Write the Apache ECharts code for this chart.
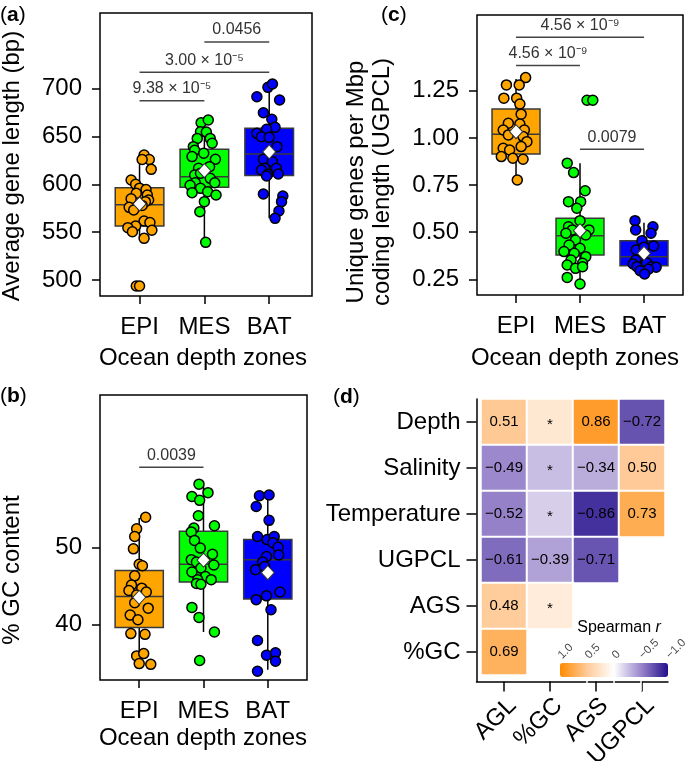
<!DOCTYPE html>
<html><head><meta charset="utf-8">
<script src="https://cdn.jsdelivr.net/npm/echarts@6/dist/echarts.min.js"></script>
<style>html,body{margin:0;padding:0;background:#fff}#c{width:685px;height:761px}</style>
</head><body><div id="c"></div>
<script>
// ---------- categories ----------
const zones = ['EPI', 'MES', 'BAT'];
const zoneColors = ['#FFA500', '#00FF00', '#0000FF'];

// ---------- panel a: average gene length (bp) ----------
// box: [lowerWhisker, Q1, median, Q3, upperWhisker]
const aglBox = [[543.6, 556.5, 578.7, 596.5, 630.7], [540, 596.9, 608, 636.6, 665.5], [564.5, 609.2, 631.7, 658.6, 704.9]];
const aglMean = [579.5, 614.3, 634];
// points: [jitter, value]
const aglEPI = [[0.07,630.7],[0.15,626],[0.04,626],[0.18,615.7],[-0.13,604.5],[-0.06,600],[0,596],[0.1,594.6],[-0.05,590.6],[0.12,588.9],[0.14,583.6],[-0.13,585],[0.09,581.9],[0.04,578],[-0.16,576],[-0.09,573.2],[0.07,561.7],[0.16,560],[-0.06,556.5],[-0.18,554.7],[-0.11,550.5],[0.19,552],[0.07,543.6],[-0.05,493.7],[0,493.7]];
const aglMES = [[-0.05,664.5],[0.06,667.3],[-0.06,655],[0.03,654.7],[-0.11,648],[0.09,648],[-0.17,639.4],[0.12,643],[-0.15,635.6],[-0.01,632.5],[-0.19,629],[0.17,626.2],[0.08,618.5],[-0.09,616.8],[-0.15,609.8],[-0.06,611.5],[0.09,606.3],[0.16,601.7],[-0.14,601.7],[-0.22,599],[-0.06,595.8],[0.05,592.3],[-0.19,591.3],[0.18,588.9],[0,581.9],[-0.07,571.4],[0.02,539.4]];
const aglBAT = [[-0.02,701.4],[0.05,704.9],[-0.19,691.6],[0.16,688.2],[-0.09,674.9],[0.04,668],[0.09,659.6],[-0.04,657.5],[-0.19,653.3],[-0.12,649.8],[0,649.1],[0.12,639.4],[-0.09,626.2],[0.05,623.7],[-0.07,616.8],[0.11,616.8],[-0.12,615],[-0.02,610.5],[0.14,610.8],[-0.04,608.7],[-0.09,589.9],[0.21,587.8],[0.19,581.9],[0.15,572.1],[0.09,564.5]];
const aglBrk = [[2, 3, 748.8], [1, 3, 717.1], [1, 2, 687.5]];
const aglBrkLabels = ['0.0456', '3.00 \u00d7 10\u207b\u2075', '9.38 \u00d7 10\u207b\u2075'];
const aglTicks = [500, 550, 600, 650, 700];

// ---------- panel b: % GC content ----------
const gcBox = [[35.0, 39.6, 43.6, 47.0, 53.8], [39.0, 45.5, 47.8, 52.1, 58.0], [34.1, 43.3, 48.4, 51.0, 56.8]];
const gcMean = [43.5, 48.35, 46.7];
const gcEPI = [[0.1,53.9],[-0.04,52.4],[-0.07,51.4],[-0.09,49.8],[0,47.8],[0.05,47.6],[-0.07,46.3],[-0.12,45.1],[-0.16,44.4],[0.04,44.7],[0.11,44.2],[-0.04,43.8],[-0.07,42.8],[0.14,42.1],[-0.14,41.2],[-0.02,40.6],[-0.13,38.8],[0.09,38.7],[-0.04,35.9],[0.07,36.2],[0,34.9],[0.18,34.8]];
const gcMES = [[-0.07,58.2],[-0.18,56.6],[0.07,57.1],[-0.06,56.1],[-0.08,54.1],[0.17,52.8],[-0.15,52.5],[-0.19,52.0],[-0.14,50.9],[-0.05,49.9],[0.14,49.1],[-0.19,48.4],[-0.11,48.1],[0.16,47.7],[-0.04,47.3],[-0.18,46.8],[0.03,46.2],[-0.09,45.8],[0.12,45.8],[-0.11,45.3],[-0.04,45.2],[-0.18,42.2],[-0.07,40.9],[0.17,39.0],[-0.06,35.3]];
const gcBAT = [[-0.13,56.7],[0.02,56.8],[-0.18,55.3],[0.02,53.5],[-0.16,51.4],[-0.01,51.0],[0.1,51.4],[0.08,50.6],[0.16,50.0],[0.17,49.0],[-0.02,48.8],[-0.08,48.1],[-0.19,47.1],[-0.05,47.5],[0.19,44.2],[-0.02,43.7],[-0.18,43.2],[0.05,41.9],[-0.16,37.9],[-0.02,36.0],[0.12,36.3],[0.12,35.2],[-0.16,33.9]];
const gcBrk = [[1, 2, 60.4]];
const gcBrkLabels = ['0.0039'];
const gcTicks = [40, 50];

// ---------- panel c: UGPCL ----------
const ugBox = [[0.777, 0.915, 1.02, 1.154, 1.313], [0.22, 0.379, 0.481, 0.574, 0.866], [0.273, 0.322, 0.37, 0.455, 0.55]];
const ugMean = [1.033, 0.508, 0.388];
const ugEPI = [[0.15,1.32],[-0.15,1.281],[0.05,1.281],[-0.19,1.211],[0.01,1.211],[0.06,1.18],[0.08,1.126],[-0.12,1.078],[0.06,1.074],[-0.2,1.042],[0.13,1.042],[-0.12,1.016],[0.11,1.007],[0.17,0.98],[-0.2,0.945],[-0.1,0.936],[0.08,0.954],[-0.23,0.901],[-0.05,0.892],[0.11,0.887],[0.02,0.777]];
const ugMES = [[-0.2,0.866],[-0.1,0.816],[0.08,0.72],[-0.18,0.662],[0.01,0.662],[-0.05,0.627],[0,0.561],[-0.18,0.529],[-0.12,0.512],[0.14,0.512],[-0.22,0.494],[0.09,0.485],[-0.07,0.459],[-0.17,0.432],[0,0.415],[-0.25,0.397],[-0.09,0.388],[0.09,0.37],[-0.14,0.352],[0.04,0.335],[-0.2,0.326],[-0.07,0.308],[0.04,0.317],[-0.2,0.26],[0,0.225],[0.11,1.2],[0.2,1.2]];
const ugBAT = [[-0.14,0.561],[-0.13,0.512],[0.14,0.529],[0.11,0.494],[-0.03,0.455],[0.15,0.427],[-0.12,0.406],[0,0.42],[-0.13,0.352],[0.04,0.338],[-0.17,0.331],[-0.11,0.317],[0.12,0.317],[0.19,0.314],[0.07,0.303],[-0.06,0.296],[0.01,0.278]];
const ugBrk = [[1, 3, 1.534], [1, 2, 1.384], [2, 3, 0.94]];
const ugBrkLabels = ['4.56 \u00d7 10\u207b\u2079', '4.56 \u00d7 10\u207b\u2079', '0.0079'];
const ugTicks = [0.25, 0.5, 0.75, 1.0, 1.25];

// ---------- panel d: Spearman correlations ----------
const rowLabels = ['Depth', 'Salinity', 'Temperature', 'UGPCL', 'AGS', '%GC'];
const colLabels = ['AGL', '%GC', 'AGS', 'UGPCL'];
// r values (non-significant cells estimated from their colour)
const rDepth = [0.51, 0.22, 0.86, -0.72];
const rSalinity = [-0.49, -0.27, -0.34, 0.50];
const rTemperature = [-0.52, -0.2, -0.86, 0.73];
const rUGPCL = [-0.61, -0.39, -0.71, null];
const rAGS = [0.48, 0.18, null, null];
const rGC = [0.69, null, null, null];
// 1 = significant (value printed), 0 = shown as *
const sigDepth = [1, 0, 1, 1];
const sigSalinity = [1, 0, 1, 1];
const sigTemperature = [1, 0, 1, 1];
const sigUGPCL = [1, 1, 1, 0];
const sigAGS = [1, 0, 0, 0];
const sigGC = [1, 0, 0, 0];
const legendTicks = [1, 0.5, 0, -0.5, -1];
const legendTickLabels = ['1.0', '0.5', '0', '\u22120.5', '\u22121.0'];

// ---------- helpers ----------
const FONT = 'Liberation Sans, Arial, Helvetica, sans-serif';
const FS = 24;
const fmtMinus = v => (v < 0 ? '\u2212' : '') + Math.abs(v).toFixed(2);

function boxRender(params, api) {
  const x = api.value(0), lo = api.value(1), q1 = api.value(2), med = api.value(3), q3 = api.value(4), hi = api.value(5);
  const hw = 0.375;
  const pLo = api.coord([x, lo]), pHi = api.coord([x, hi]);
  const pA = api.coord([x - hw, q1]), pB = api.coord([x + hw, q3]);
  const pM1 = api.coord([x - hw, med]), pM2 = api.coord([x + hw, med]);
  return {
    type: 'group', children: [
      { type: 'line', shape: { x1: pLo[0], y1: pLo[1], x2: pHi[0], y2: pHi[1] }, style: { stroke: '#000', lineWidth: 1.5 } },
      { type: 'rect', shape: { x: pA[0], y: pB[1], width: pB[0] - pA[0], height: pA[1] - pB[1] }, style: { fill: zoneColors[x - 1], stroke: '#3a3a3a', lineWidth: 1.5 } },
      { type: 'line', shape: { x1: pM1[0], y1: pM1[1], x2: pM2[0], y2: pM2[1] }, style: { stroke: '#3a3a3a', lineWidth: 1.5 } }
    ]
  };
}
function makeBrkRender(labels) {
  return function (params, api) {
    const p1 = api.coord([api.value(0), api.value(2)]);
    const p2 = api.coord([api.value(1), api.value(2)]);
    return {
      type: 'group', children: [
        { type: 'line', shape: { x1: p1[0], y1: p1[1], x2: p2[0], y2: p2[1] }, style: { stroke: '#444', lineWidth: 1.5 } },
        { type: 'text', style: { text: labels[params.dataIndex], x: (p1[0] + p2[0]) / 2, y: p1[1] - 12, fill: '#333', fontSize: 16, fontFamily: FONT, align: 'center', verticalAlign: 'middle', textAlign: 'center', textVerticalAlign: 'middle' } }
      ]
    };
  };
}
function boxData(box) { return box.map((b, i) => [i + 1].concat(b)); }
function ptsData(pts, gi) { return pts.map(p => [gi + 1 + p[0], p[1]]); }
function meanData(m) { return m.map((v, i) => [i + 1, v]); }

function panelAxes(gi, yMin, yMax, ticks, fmt) {
  return {
    x: {
      type: 'value', gridIndex: gi, min: 0.39, max: 3.61,
      axisLine: { show: false }, splitLine: { show: false },
      axisTick: { show: true, length: 8, lineStyle: { color: '#000', width: 1.5 }, customValues: [1, 2, 3] },
      axisLabel: { customValues: [1, 2, 3], formatter: v => zones[Math.round(v) - 1], fontSize: FS, fontFamily: FONT, color: '#000', margin: 19 }
    },
    y: {
      type: 'value', gridIndex: gi, min: yMin, max: yMax,
      axisLine: { show: false }, splitLine: { show: false },
      axisTick: { show: true, length: 8, lineStyle: { color: '#000', width: 1.5 }, customValues: ticks },
      axisLabel: { customValues: ticks, formatter: fmt, fontSize: FS, fontFamily: FONT, color: '#000', margin: 18 }
    }
  };
}
function panelSeries(axisIdx, box, mean, groups, brk, brkLabels) {
  const s = [];
  s.push({ type: 'custom', xAxisIndex: axisIdx, yAxisIndex: axisIdx, renderItem: boxRender, data: boxData(box), z: 2, silent: true });
  groups.forEach((g, gi) => {
    s.push({ type: 'scatter', xAxisIndex: axisIdx, yAxisIndex: axisIdx, data: ptsData(g, gi), symbol: 'circle', symbolSize: 10,
      itemStyle: { color: zoneColors[gi], borderColor: '#000', borderWidth: 1.5, opacity: 1 }, z: 3, silent: true });
  });
  s.push({ type: 'scatter', xAxisIndex: axisIdx, yAxisIndex: axisIdx, data: meanData(mean), symbol: 'diamond', symbolSize: [13, 14],
    itemStyle: { color: '#fff', borderColor: '#333', borderWidth: 1, opacity: 1 }, z: 4, silent: true });
  s.push({ type: 'custom', xAxisIndex: axisIdx, yAxisIndex: axisIdx, renderItem: makeBrkRender(brkLabels), data: brk, z: 5, silent: true });
  return s;
}

const axA = panelAxes(0, 483.3, 779.1, aglTicks, v => String(Math.round(v)));
axA.x.max = 3.66;
const axB = panelAxes(1, 32.77, 69.78, gcTicks, v => String(Math.round(v)));
const axC = panelAxes(2, 0.1667, 1.652, ugTicks, v => v.toFixed(2));

// heatmap data
const rRows = [rDepth, rSalinity, rTemperature, rUGPCL, rAGS, rGC];
const sigRows = [sigDepth, sigSalinity, sigTemperature, sigUGPCL, sigAGS, sigGC];
const heatData = [];
rRows.forEach((row, ri) => row.forEach((v, ci) => {
  if (v !== null) heatData.push({ value: [ci, ri, v, sigRows[ri][ci]], label: sigRows[ri][ci] ? {} : { offset: [0, 3] } });
}));

const chart = echarts.init(document.getElementById('c'), null, { renderer: 'canvas' });
const gridStyle = { show: true, borderColor: '#000', borderWidth: 1.5, backgroundColor: 'transparent', containLabel: false, outerBoundsMode: 'none' };
const titleStyle = t => ({ text: t, font: FS + 'px ' + FONT, fill: '#000', align: 'center', verticalAlign: 'middle' });
const panelLabel = (ch, x, y) => ({ type: 'text', x: x, y: y, style: { text: '({b|' + ch + '})', font: '21px ' + FONT, fill: '#000', verticalAlign: 'middle', rich: { b: { fontWeight: 'bold', fontSize: 21, fontFamily: FONT } } } });

const option = {
  animation: false,
  grid: [
    Object.assign({ left: 100, top: 13, width: 212, height: 283 }, gridStyle),
    Object.assign({ left: 100, top: 395, width: 207, height: 285 }, gridStyle),
    Object.assign({ left: 477, top: 15, width: 206, height: 280 }, gridStyle),
    { left: 481, top: 399, width: 184, height: 276, show: false, outerBoundsMode: 'none' },
    { left: 476.5, top: 399, width: 191.5, height: 282.5, show: false, outerBoundsMode: 'none' },
    { left: 560, top: 663, width: 108, height: 14, show: false, outerBoundsMode: 'none' }
  ],
  xAxis: [
    axA.x, axB.x, axC.x,
    { type: 'category', gridIndex: 3, data: colLabels, offset: 6.5,
      axisLine: { show: false }, splitLine: { show: false },
      axisTick: { show: true, alignWithLabel: true, length: 10, lineStyle: { color: '#000', width: 1.5 } },
      axisLabel: { rotate: 45, fontSize: FS, fontFamily: FONT, color: '#000', margin: 12, interval: 0, verticalAlign: 'top' } },
    { type: 'value', gridIndex: 4, min: 0, max: 1, axisLine: { show: true, lineStyle: { color: '#000', width: 1.5 } },
      axisTick: { show: false }, axisLabel: { show: false }, splitLine: { show: false } },
    { type: 'value', gridIndex: 5, min: -1, max: 1, inverse: true, position: 'top', z: 10,
      axisLine: { show: false }, splitLine: { show: false },
      axisTick: { show: true, inside: true, length: 14, lineStyle: { color: '#fff', width: 1.5 }, customValues: [0.5, 0, -0.5] },
      axisLabel: { customValues: legendTicks, formatter: v => legendTickLabels[legendTicks.indexOf(v)], rotate: 45, fontSize: 11.5, fontFamily: FONT, color: '#4d4d4d', margin: 6 } }
  ],
  yAxis: [
    axA.y, axB.y, axC.y,
    { type: 'category', gridIndex: 3, data: rowLabels, inverse: true, offset: 4.5,
      axisLine: { show: false }, splitLine: { show: false },
      axisTick: { show: true, alignWithLabel: true, length: 10, lineStyle: { color: '#000', width: 1.5 } },
      axisLabel: { fontSize: FS, fontFamily: FONT, color: '#000', margin: 16, interval: 0 } },
    { type: 'value', gridIndex: 4, min: 0, max: 1, axisLine: { show: true, lineStyle: { color: '#000', width: 1.5 } },
      axisTick: { show: false }, axisLabel: { show: false }, splitLine: { show: false } },
    { type: 'value', gridIndex: 5, min: 0, max: 1, show: false }
  ],
  visualMap: {
    type: 'continuous', seriesIndex: 18, dimension: 2, min: -1, max: 1,
    orient: 'horizontal', inverse: true, left: 560, top: 663, itemWidth: 14, itemHeight: 108,
    padding: 0, calculable: false, hoverLink: false, text: null, showLabel: false,
    inRange: { color: ['#24108C', '#9A86CB', '#FFFFFF', '#FFCA98', '#FF8A00'] }
  },
  series: [].concat(
    panelSeries(0, aglBox, aglMean, [aglEPI, aglMES, aglBAT], aglBrk, aglBrkLabels),
    panelSeries(1, gcBox, gcMean, [gcEPI, gcMES, gcBAT], gcBrk, gcBrkLabels),
    panelSeries(2, ugBox, ugMean, [ugEPI, ugMES, ugBAT], ugBrk, ugBrkLabels),
    [{ type: 'heatmap', xAxisIndex: 3, yAxisIndex: 3, data: heatData, silent: true,
       itemStyle: { borderColor: '#fff', borderWidth: 2 },
       label: { show: true, fontSize: 15, fontFamily: FONT, color: '#000',
         formatter: p => p.value[3] ? fmtMinus(p.value[2]) : '*' },
       emphasis: { disabled: true } },
     { type: 'scatter', xAxisIndex: 5, yAxisIndex: 5, data: [], silent: true }]
  ),
  graphic: [
    panelLabel('a', 0, 15), panelLabel('c', 381, 15), panelLabel('b', 0, 396), panelLabel('d', 333, 397),
    { type: 'text', x: 12, y: 166, rotation: Math.PI / 2, style: titleStyle('Average gene length (bp)') },
    { type: 'text', x: 12, y: 570, rotation: Math.PI / 2, style: titleStyle('% GC content') },
    { type: 'text', x: 356, y: 182, rotation: Math.PI / 2, style: titleStyle('Unique genes per Mbp') },
    { type: 'text', x: 382, y: 182, rotation: Math.PI / 2, style: titleStyle('coding length (UGPCL)') },
    { type: 'text', x: 203, y: 358, style: titleStyle('Ocean depth zones') },
    { type: 'text', x: 203, y: 738, style: titleStyle('Ocean depth zones') },
    { type: 'text', x: 575, y: 358, style: titleStyle('Ocean depth zones') },
    { type: 'text', x: 619, y: 628, style: { text: 'Spearman {i|r}', font: '16px ' + FONT, fill: '#000', align: 'center', verticalAlign: 'middle', rich: { i: { fontStyle: 'italic', fontSize: 16, fontFamily: FONT } } } }
  ]
};
chart.setOption(option);
</script>
</body></html>
